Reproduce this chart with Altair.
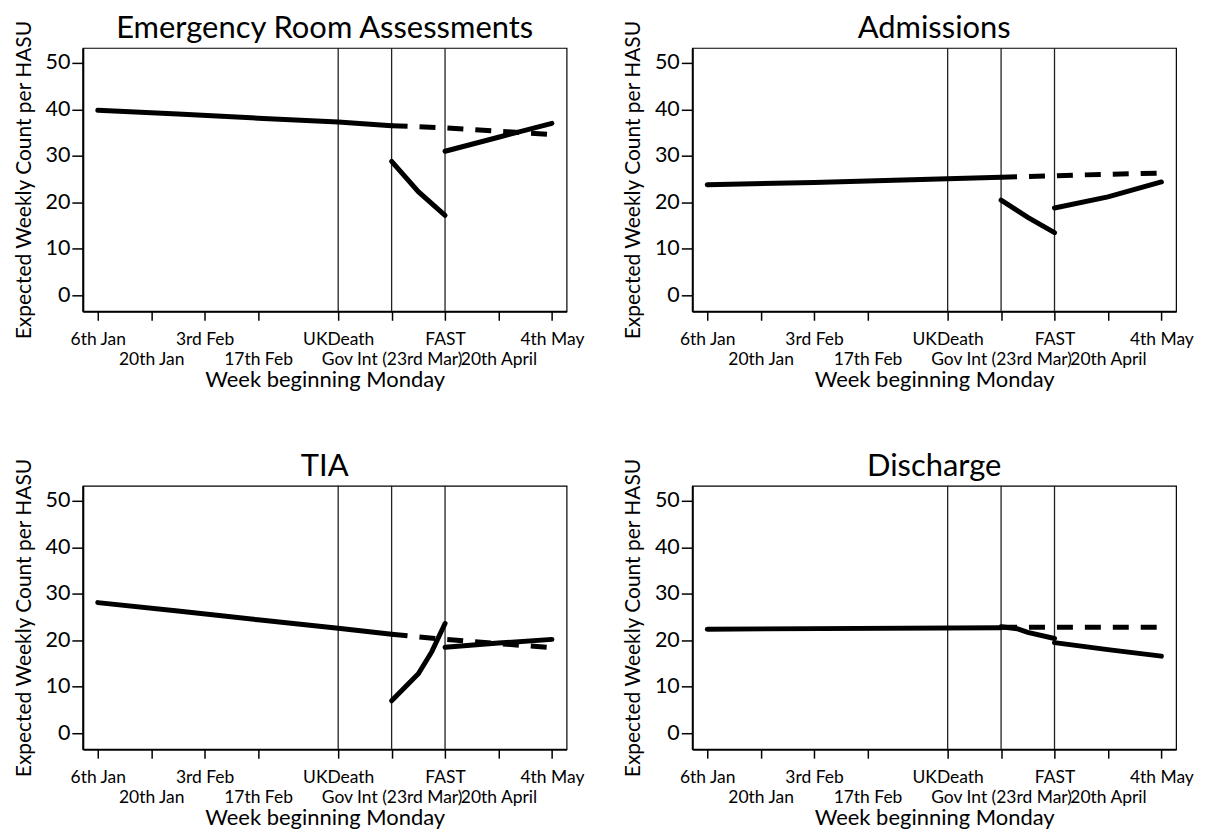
import altair as alt
import pandas as pd

FONT = "Lato"

panel_titles = ["Emergency Room Assessments", "Admissions", "TIA", "Discharge"]

tick_weeks = [0, 2, 4, 6, 9, 11, 13, 15, 17]
tick_labels = ["6th Jan", "20th Jan", "3rd Feb", "17th Feb", "UKDeath",
               "Gov Int (23rd Mar)", "FAST", "20th April", "4th May"]
tick_rows = [0, 1, 0, 1, 0, 1, 0, 1, 0]
event_weeks = [9, 11, 13]
y_ticks = [0, 10, 20, 30, 40, 50]

# Emergency Room Assessments
er_pre_w = [0, 3, 6, 9, 11]
er_pre_v = [39.8, 39.0, 38.1, 37.3, 36.5]
er_cf_w = [11, 13, 15, 17]
er_cf_v = [36.5, 36.0, 35.3, 34.6]
er_lock_w = [11, 12, 13]
er_lock_v = [28.8, 22.3, 17.2]
er_post_w = [13, 15, 17]
er_post_v = [31.0, 34.0, 37.0]

# Admissions
ad_pre_w = [0, 4, 9, 11]
ad_pre_v = [23.8, 24.3, 25.1, 25.4]
ad_cf_w = [11, 14, 17]
ad_cf_v = [25.4, 25.9, 26.3]
ad_lock_w = [11, 12, 13]
ad_lock_v = [20.5, 16.8, 13.5]
ad_post_w = [13, 15, 17]
ad_post_v = [18.8, 21.2, 24.4]

# TIA
tia_pre_w = [0, 3, 6, 9, 11]
tia_pre_v = [28.1, 26.3, 24.4, 22.6, 21.3]
tia_cf_w = [11, 13, 15, 17]
tia_cf_v = [21.3, 20.2, 19.3, 18.4]
tia_lock_w = [11, 12, 12.5, 13]
tia_lock_v = [7.0, 12.8, 17.5, 23.6]
tia_post_w = [13, 15, 17]
tia_post_v = [18.5, 19.4, 20.2]

# Discharge
dis_pre_w = [0, 11]
dis_pre_v = [22.4, 22.7]
dis_cf_w = [11, 17]
dis_cf_v = [22.8, 22.8]
dis_lock_w = [11, 11.6, 12, 13]
dis_lock_v = [22.9, 22.5, 21.7, 20.4]
dis_post_w = [13, 15, 17]
dis_post_v = [19.5, 18.0, 16.6]

panel_series = [
    [("pre", "solid", er_pre_w, er_pre_v), ("cf", "dashed", er_cf_w, er_cf_v),
     ("lock", "solid", er_lock_w, er_lock_v), ("post", "solid", er_post_w, er_post_v)],
    [("pre", "solid", ad_pre_w, ad_pre_v), ("cf", "dashed", ad_cf_w, ad_cf_v),
     ("lock", "solid", ad_lock_w, ad_lock_v), ("post", "solid", ad_post_w, ad_post_v)],
    [("pre", "solid", tia_pre_w, tia_pre_v), ("cf", "dashed", tia_cf_w, tia_cf_v),
     ("lock", "solid", tia_lock_w, tia_lock_v), ("post", "solid", tia_post_w, tia_post_v)],
    [("pre", "solid", dis_pre_w, dis_pre_v), ("cf", "dashed", dis_cf_w, dis_cf_v),
     ("lock", "solid", dis_lock_w, dis_lock_v), ("post", "solid", dis_post_w, dis_post_v)],
]

# label expression: odd ticks go on a second line
parts = []
for w, lab, r in zip(tick_weeks, tick_labels, tick_rows):
    txt = f"['', '{lab}']" if r else f"'{lab}'"
    parts.append(f"datum.value == {w} ? {txt} : ")
label_expr = "".join(parts) + "''"

events_df = pd.DataFrame({"week": event_weeks})

x_enc = alt.X(
    "week:Q",
    scale=alt.Scale(domain=[-0.56, 17.55], nice=False, zero=False),
    axis=alt.Axis(values=tick_weeks, labelExpr=label_expr, title="Week beginning Monday",
                  labelFontSize=17.5, titleFontSize=22, tickSize=9, labelPadding=10,
                  labelLineHeight=20, labelBaseline="top", labelOverlap=False,
                  labelFlush=False, labelBound=False, titlePadding=2, grid=False,
                  titleFontWeight="normal"),
)
y_enc = alt.Y(
    "value:Q",
    scale=alt.Scale(domain=[-3.4, 53.2], nice=False, zero=False),
    axis=alt.Axis(values=y_ticks, title="Expected Weekly Count per HASU",
                  labelFontSize=21.5, titleFontSize=21, tickSize=11, labelPadding=2,
                  titlePadding=11, grid=False, titleFontWeight="normal"),
)


def make_panel(title, series):
    rows = []
    for seg, kind, ws, vs in series:
        for w, v in zip(ws, vs):
            rows.append({"segment": seg, "kind": kind, "week": w, "value": v})
    df = pd.DataFrame(rows)
    base = alt.Chart(df)
    solid = base.transform_filter("datum.kind == 'solid'").mark_line(
        strokeWidth=5, strokeCap="round", color="black"
    ).encode(x=x_enc, y=y_enc, detail="segment:N")
    dashed = base.transform_filter("datum.kind == 'dashed'").mark_line(
        strokeWidth=5, strokeDash=[16, 12], color="black"
    ).encode(x=x_enc, y=y_enc, detail="segment:N")
    rules = alt.Chart(events_df).mark_rule(color="#222222", strokeWidth=1.3).encode(x=x_enc)
    return alt.layer(rules, dashed, solid).properties(
        width=485, height=264,
        title=alt.TitleParams(title, fontSize=31, font=FONT, fontWeight="normal",
                              color="black", anchor="middle", offset=-25),
    )


panels = [make_panel(t, s) for t, s in zip(panel_titles, panel_series)]

chart = alt.concat(*panels, columns=2, spacing={"row": 175, "column": 126}, bounds="flush").properties(
    padding={"left": 4, "top": 3, "right": 5, "bottom": 5}, background="white"
).configure_view(
    stroke="black", strokeWidth=1.2
).configure_axis(
    grid=False, domainColor="black", domainWidth=2, tickColor="black", tickWidth=1.5,
    labelColor="black", titleColor="black", labelFont=FONT, titleFont=FONT,
    titleFontWeight="normal",
)

chart.save("out.html", embed_options={"renderer": "svg", "actions": False})
